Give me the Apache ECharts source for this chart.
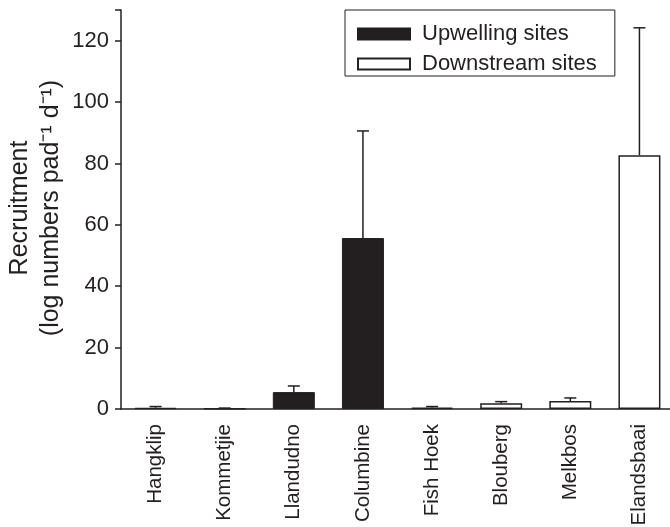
<!DOCTYPE html>
<html>
<head>
<meta charset="utf-8">
<script src="https://cdn.jsdelivr.net/npm/echarts@6/dist/echarts.min.js"></script>
<style>html,body{margin:0;padding:0;background:#fff;}#c{width:670px;height:527px;}</style>
</head>
<body>
<div id="c"></div>
<script>
var categories = ['Hangklip','Kommetjie','Llandudno','Columbine','Fish Hoek','Blouberg','Melkbos','Elandsbaai'];
var upwelling = [0.4, 0.15, 5.5, 55.7, null, null, null, null];
var downstream = [null, null, null, null, 0.45, 1.9, 2.6, 82.7];
var errorTop = [0.8, 0.3, 7.5, 90.6, 0.8, 2.4, 3.6, 124.2];
var yTicks = [0, 20, 40, 60, 80, 100, 120];

var FONT = 'Liberation Sans, Arial, sans-serif';
var INK = '#231f20';
var chart = echarts.init(document.getElementById('c'));

var meanVals = categories.map(function(c, i){ return upwelling[i] != null ? upwelling[i] : downstream[i]; });

chart.setOption({
  animation: false,
  grid: {left: 121, top: 10, width: 553, height: 399, containLabel: false, outerBoundsMode: 'none'},
  legend: {
    left: 345, top: 10, orient: 'vertical',
    padding: [13, 18, 1, 12],
    itemGap: 8,
    itemWidth: 52, itemHeight: 11,
    borderColor: INK, borderWidth: 1,
    icon: 'rect',
    textStyle: {fontFamily: FONT, fontSize: 22, color: INK, padding: [0,0,0,7]},
    data: ['Upwelling sites', 'Downstream sites']
  },
  xAxis: {
    type: 'category', data: categories,
    axisLine: {lineStyle: {color: INK, width: 1.5}},
    axisTick: {alignWithLabel: true, length: 6, lineStyle: {color: INK, width: 1.5}},
    axisLabel: {rotate: 90, fontFamily: FONT, fontSize: 20.5, color: INK, margin: 15, interval: 0}
  },
  yAxis: {
    type: 'value', min: 0, max: 130, interval: 20,
    splitLine: {show: false},
    axisLine: {show: true, lineStyle: {color: INK, width: 1.5}},
    axisTick: {show: true, length: 6, lineStyle: {color: INK, width: 1.5}},
    axisLabel: {fontFamily: FONT, fontSize: 22, color: INK, margin: 12,
      formatter: function(v){ return yTicks.indexOf(v) >= 0 ? String(v) : ''; }}
  },
  graphic: [{
    type: 'text', x: 36, y: 208, rotation: Math.PI/2,
    style: {text: 'Recruitment\n(log numbers pad\u207B\u00B9 d\u207B\u00B9)', fontFamily: FONT, fontSize: 25,
      fill: INK, align: 'center', verticalAlign: 'middle', lineHeight: 31}
  }],
  series: [
    {name: 'Upwelling sites', type: 'bar', data: upwelling, barWidth: 42, barGap: '-100%',
      itemStyle: {color: INK, borderColor: INK, borderWidth: 1}},
    {name: 'Downstream sites', type: 'bar', data: downstream, barWidth: 42, barGap: '-100%',
      itemStyle: {color: '#ffffff', borderColor: INK, borderWidth: 1.5}},
    {name: 'err', type: 'custom', data: categories.map(function(c, i){ return [i, meanVals[i], errorTop[i]]; }),
      renderItem: function(params, api){
        var x = api.value(0);
        var p0 = api.coord([x, api.value(1)]);
        var p1 = api.coord([x, api.value(2)]);
        var hw = 6;
        return {type: 'group', children: [
          {type: 'line', shape: {x1: p0[0], y1: p0[1], x2: p1[0], y2: p1[1]}, style: {stroke: INK, lineWidth: 1.5}},
          {type: 'line', shape: {x1: p1[0]-hw, y1: p1[1], x2: p1[0]+hw, y2: p1[1]}, style: {stroke: INK, lineWidth: 1.5}}
        ]};
      }, z: 3}
  ]
});
</script>
</body>
</html>
